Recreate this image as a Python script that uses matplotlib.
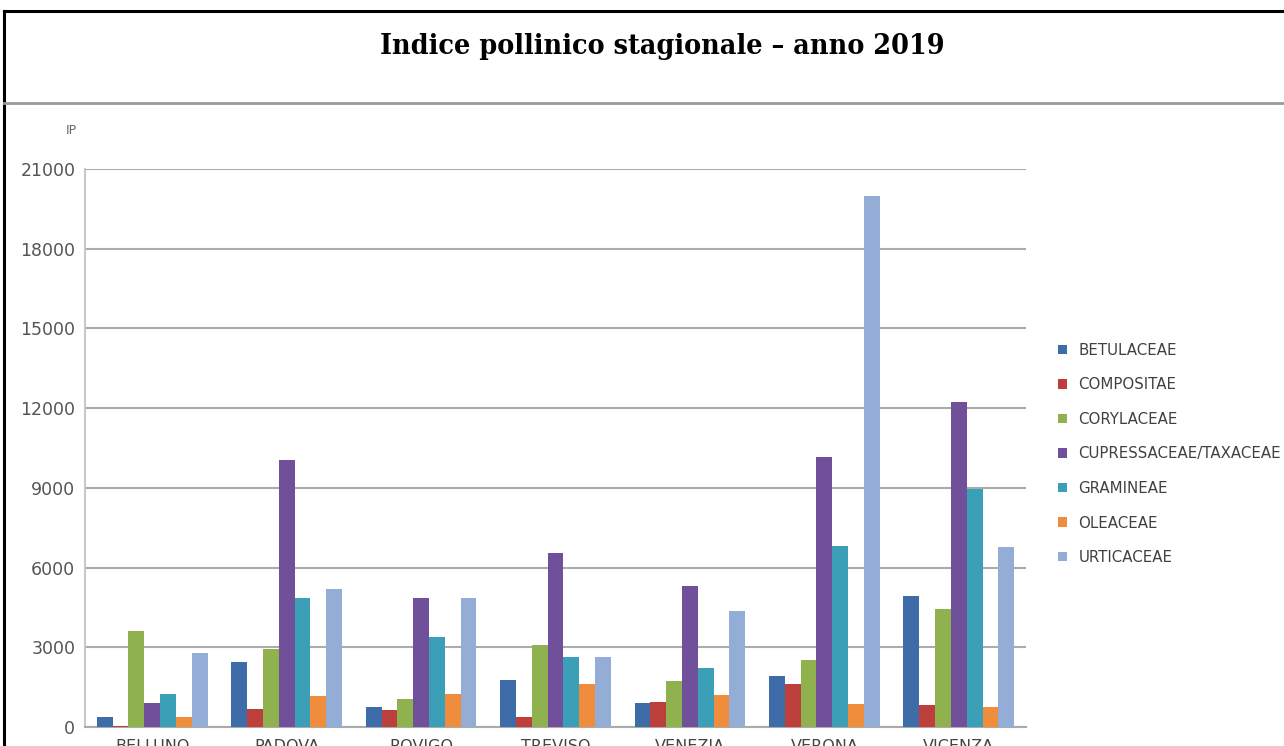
import matplotlib
matplotlib.use("Agg")
import matplotlib.pyplot as plt
from matplotlib.patches import Patch
from matplotlib.lines import Line2D
import numpy as np

cities = ["BELLUNO", "PADOVA", "ROVIGO", "TREVISO", "VENEZIA", "VERONA", "VICENZA"]
families = ["BETULACEAE", "COMPOSITAE", "CORYLACEAE", "CUPRESSACEAE/TAXACEAE",
            "GRAMINEAE", "OLEACEAE", "URTICACEAE"]
betulaceae = [380, 2450, 760, 1770, 910, 1910, 4940]
compositae = [40, 680, 650, 380, 940, 1620, 840]
corylaceae = [3620, 2950, 1060, 3100, 1750, 2540, 4440]
cupressaceae = [910, 10050, 4860, 6540, 5290, 10150, 12250]
gramineae = [1250, 4860, 3400, 2620, 2230, 6830, 8960]
oleaceae = [380, 1180, 1260, 1630, 1210, 870, 750]
urticaceae = [2790, 5200, 4860, 2650, 4350, 20000, 6780]
series = [betulaceae, compositae, corylaceae, cupressaceae, gramineae, oleaceae, urticaceae]
colors = ["#3D6CA8", "#BC3F3B", "#8FB24F", "#70509A", "#3C9FB8", "#F08D3C", "#93ADD6"]
yticks = [0, 3000, 6000, 9000, 12000, 15000, 18000, 21000]

W, H = 1284, 746
fig = plt.figure(figsize=(W / 100, H / 100), dpi=100)
fig.patch.set_facecolor("white")

# frame lines
fig.add_artist(Line2D([4 / W, 4 / W], [0, 1 - 11 / H], color="black", lw=2.2, transform=fig.transFigure))
fig.add_artist(Line2D([4 / W, 1], [1 - 11 / H, 1 - 11 / H], color="black", lw=2.2, transform=fig.transFigure))
fig.add_artist(Line2D([4 / W, 1], [1 - 103 / H, 1 - 103 / H], color="#9A9A9A", lw=2.0, transform=fig.transFigure))

fig.text(662 / W, 1 - 46 / H, "Indice pollinico stagionale – anno 2019",
         ha="center", va="center", fontsize=20.5, fontweight="bold", fontstretch="condensed",
         family="DejaVu Serif", color="black")

left, right, top, bottom = 85, 1026, 169, 727
ax = fig.add_axes([left / W, 1 - bottom / H, (right - left) / W, (bottom - top) / H])
ax.set_facecolor("white")

n = len(families)
bw = 1 / 8.5
x = np.arange(len(cities))
for i, (vals, col) in enumerate(zip(series, colors)):
    ax.bar(x + (i - (n - 1) / 2) * bw, vals, width=bw, color=col, zorder=3, linewidth=0)

ax.set_xlim(-0.5, len(cities) - 0.5)
ax.set_ylim(0, 21000)
ax.set_yticks(yticks)
ax.set_yticklabels([str(v) for v in yticks])
ax.set_xticks(x)
ax.set_xticklabels(cities)
ax.yaxis.grid(True, color="#ABABAB", lw=1.5, zorder=0)
ax.tick_params(axis="y", length=0, pad=7, labelsize=12.5, labelcolor="#555555")
ax.tick_params(axis="x", length=0, pad=8.5, labelsize=11.5, labelcolor="#444444")
for s in ["top", "right"]:
    ax.spines[s].set_visible(False)
ax.spines["left"].set_color("#C8C8C8")
ax.spines["left"].set_linewidth(1.5)
ax.spines["bottom"].set_color("#ABABAB")
ax.spines["bottom"].set_linewidth(1.5)

fig.text(71 / W, 1 - 130 / H, "IP", ha="center", va="center", fontsize=9, color="#666666")

handles = [Patch(facecolor=c, edgecolor="none") for c in colors]
fig.legend(handles, families, loc="center left", bbox_to_anchor=(1058 / W, 1 - 454 / H),
           frameon=False, fontsize=10.8, handlelength=0.6, handleheight=0.6,
           handletextpad=0.75, labelspacing=1.3, borderpad=0, borderaxespad=0,
           labelcolor="#404040")

fig.savefig("out.png", dpi=100)
